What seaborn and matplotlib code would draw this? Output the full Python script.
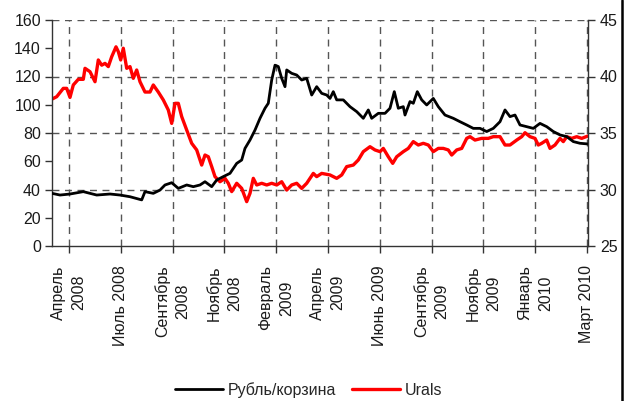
import numpy as np
import pandas as pd
import matplotlib
matplotlib.use("Agg")
import matplotlib.pyplot as plt
import seaborn as sns
from matplotlib.lines import Line2D

# Urals, $/bbl (left axis); x = trading-day index
urals_day = [0, 4.7, 11.3, 14.7, 18, 21.3, 26.3, 31.3, 33, 38, 43, 46.3, 49.7, 53, 56.3,
             59.7, 64, 66.3, 68.7, 71.3, 74.7, 78, 81.3, 84.7, 88, 93, 98, 101.3, 106.3,
             111.3, 116.3, 119.7, 123, 126.3, 129.7, 134.7, 139.7, 144.7, 149.7, 153,
             156.3, 159.7, 163, 168, 173, 176.3, 179.7, 184.7, 189.7, 194.7, 198, 201.3,
             204.7, 209.7, 214.7, 219.7, 224.7, 229.7, 234.7, 239.7, 244.7, 249.7, 254.7,
             261.3, 264.7, 269.7, 278, 284.7, 289.7, 294.7, 301.3, 306.3, 311.3, 318, 323,
             328, 331.3, 336.3, 340.7, 344.7, 351.3, 356.3, 361.3, 366.3, 371.3, 376.3,
             381.3, 386.3, 391.3, 396.3, 399.7, 404.7, 409.7, 414.7, 418, 423, 429.7,
             436.3, 441.3, 448, 453, 458, 464.7, 469.7, 473, 478, 483, 486.3, 489.7,
             494.7, 498, 503, 508, 511.3, 514.7, 519.7, 524.7, 529.7, 536]
urals = [104, 105.7, 111.6, 111.6, 105.2, 114, 118, 118, 125.8, 123.4, 116.3, 131.7, 128,
         129.3, 127, 134, 141, 137.6, 131.7, 140, 125.8, 127, 118.7, 124.6, 116.3, 109,
         109, 114, 109, 103.4, 96.3, 86.8, 101, 101, 91.6, 82.1, 72.7, 68, 57.3, 64.4,
         63.2, 56.2, 49.1, 45.5, 47.9, 44.4, 38.5, 44.4, 40.8, 31.4, 37.3, 47.9, 43.2,
         44.4, 43.2, 44.4, 43.2, 45.5, 39.6, 43.2, 44.4, 40.8, 44.4, 51.4, 49.1, 51.4,
         50.3, 47.9, 50.3, 56.2, 57.3, 60.9, 66.8, 70.3, 68, 66.8, 69.1, 63.2, 58.5,
         63.2, 66.8, 69.1, 73.9, 71.5, 72.7, 71.5, 66.8, 69.1, 69.1, 68, 64.4, 68, 69.1,
         76.2, 77.4, 75, 76.2, 76.2, 77.4, 77.4, 71.5, 71.5, 75, 77.4, 80.2, 77.4, 76.2,
         71.5, 72.7, 75, 69.1, 71.5, 76.2, 73.9, 77.4, 76.2, 77.4, 76.2, 77.9]

# Рубль/корзина (right axis)
rub_day = [0, 8, 18, 31.3, 44.7, 58, 68, 78, 89.7, 93, 101.3, 108, 113, 119.7, 126.3,
           134.7, 141.3, 148, 153, 159.7, 164.7, 171.3, 178, 184.7, 189.7, 193, 198, 203,
           208, 213, 216.3, 219.7, 223, 226.3, 229.7, 233, 234.7, 239.7, 244.7, 249.7,
           254.7, 259.7, 264.7, 269.7, 274.7, 278, 281.3, 284.7, 291.3, 298, 304.7,
           311.3, 316.3, 319.7, 326.3, 333, 338, 342.3, 346.3, 351.3, 353, 358, 361.3,
           365.3, 369.7, 374.7, 381.3, 386.3, 393, 401.3, 408, 414.7, 421.3, 428, 434.7,
           441.3, 448, 453, 458, 463, 468, 474.7, 481.3, 488, 494.7, 501.3, 508, 514.7,
           521.3, 528, 536]
rub = [29.66, 29.51, 29.6, 29.81, 29.51, 29.6, 29.51, 29.36, 29.08, 29.81, 29.66, 29.95,
       30.4, 30.6, 30.1, 30.4, 30.25, 30.4, 30.69, 30.25, 30.84, 31.14, 31.43, 32.31,
       32.61, 33.64, 34.38, 35.26, 36.3, 37.19, 37.63, 39.69, 41.0, 40.88, 39.84, 39.1,
       40.58, 40.28, 40.13, 39.69, 39.84, 38.36, 39.1, 38.51, 38.36, 38.06, 38.66, 37.93,
       37.93, 37.33, 36.89, 36.3, 37.04, 36.3, 36.74, 36.74, 37.19, 38.66, 37.19, 37.33,
       36.59, 37.78, 37.63, 38.66, 37.93, 37.48, 38.06, 37.33, 36.59, 36.3, 36.0, 35.71,
       35.41, 35.41, 35.13, 35.41, 36.0, 37.04, 36.45, 36.59, 35.71, 35.56, 35.41, 35.85,
       35.56, 35.13, 34.83, 34.68, 34.24, 34.09, 34.03]

tick_labels = ["Апрель\n2008", "Июль 2008", "Сентябрь\n2008", "Ноябрь\n2008",
               "Февраль\n2009", "Апрель\n2009", "Июнь 2009", "Сентябрь\n2009",
               "Ноябрь\n2009", "Январь\n2010", "Март 2010"]

sns.set_style("white")
plt.rcParams['font.family'] = ['Liberation Sans', 'DejaVu Sans']
plt.rcParams['font.size'] = 11

df_u = pd.DataFrame({"day": urals_day, "val": urals})
df_r = pd.DataFrame({"day": rub_day, "val": rub})

fig = plt.figure(figsize=(6.34, 4.01), dpi=100)
ax = fig.add_axes([52 / 634, 1 - 246 / 401, 536 / 634, 226 / 401])
ax2 = ax.twinx()

sns.lineplot(data=df_u, x="day", y="val", ax=ax, color="#ff0000", linewidth=2.4,
             legend=False)
sns.lineplot(data=df_r, x="day", y="val", ax=ax2, color="black", linewidth=2.0,
             legend=False)

ax.set_xlim(0, 536)
ax.set_ylim(0, 160)
ax2.set_ylim(25, 45)
ax.set_yticks(range(0, 161, 20))
ax2.set_yticks(range(25, 46, 5))
ticks = np.linspace(17, 535, len(tick_labels))
ax.set_xticks(ticks)
ax.set_xticklabels(tick_labels, rotation=90, ha="center", va="top",
                   multialignment="center", linespacing=1.45)
ax.set_xlabel("")
ax.set_ylabel("")
ax2.set_ylabel("")

grid_kw = dict(color="#555555", linestyle=(0, (5, 4)), linewidth=1.0, zorder=0)
for t in ticks:
    ax.axvline(t, **grid_kw)
for v in [40, 80, 120, 160]:
    ax.axhline(v, **grid_kw)

for a in (ax, ax2):
    a.spines["top"].set_visible(False)
    for s in ("left", "right", "bottom"):
        a.spines[s].set_color("#333333")
        a.spines[s].set_linewidth(1.0)
ax.spines["right"].set_visible(False)
ax2.spines["left"].set_visible(False)
ax2.spines["bottom"].set_visible(False)

ax.tick_params(axis="both", direction="out", length=5, width=1, color="#333333",
               labelsize=11.5, pad=3, left=True, bottom=True, labelcolor="#1a1a1a")
ax.tick_params(axis="x", pad=9)
ax2.tick_params(axis="y", direction="out", length=5, width=1, color="#333333",
                labelsize=11.5, right=True, labelcolor="#1a1a1a")

handles = [Line2D([], [], color="black", linewidth=2.0),
           Line2D([], [], color="#ff0000", linewidth=2.4)]
fig.legend(handles, ["Рубль/корзина", "Urals"], loc="center", ncol=2,
           bbox_to_anchor=(309 / 634, 1 - 390 / 401), frameon=False, fontsize=11.5,
           handlelength=3.0, handletextpad=0.3, columnspacing=1.0)

fig.add_artist(Line2D([621.5 / 634, 621.5 / 634], [0, 1], color="black", linewidth=1.8,
                      transform=fig.transFigure))

fig.savefig("out.png", dpi=100, facecolor="white")
